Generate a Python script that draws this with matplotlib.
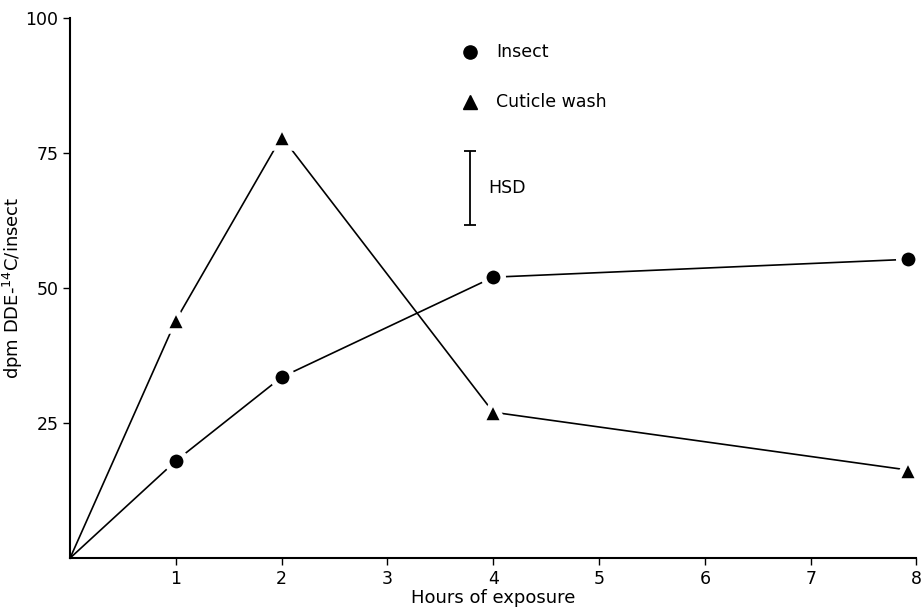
import matplotlib
matplotlib.use('Agg')
from matplotlib import pyplot as plt

hours = [0, 1, 2, 4, 7.92]
insect = [0, 18, 33.5, 52, 55.3]
cuticle_wash = [0, 44, 78, 27, 16.3]

hsd_x = 3.78
hsd_low = 61.6
hsd_high = 75.3

plt.rcParams['font.family'] = ['DejaVu Sans']
plt.rcParams['mathtext.default'] = 'regular'

fig = plt.figure(figsize=(9.22, 6.16), dpi=100)
ax = fig.add_axes([0.076, 0.094, 0.918, 0.877])

# no marker at the origin, only the measured hours
# white marker edge leaves the small gap between line and symbol
ax.plot(hours, insect, color='black', lw=1.2, marker='o', ms=14,
        mfc='black', mec='white', mew=4, markevery=[1, 2, 3, 4], clip_on=False)
ax.plot(hours, cuticle_wash, color='black', lw=1.2, marker='^', ms=15.5,
        mfc='black', mec='white', mew=4, markevery=[1, 2, 3, 4], clip_on=False)

# legend drawn by hand, like the original figure
ax.plot([3.78], [93.6], marker='o', ms=9.5, color='black', clip_on=False)
ax.text(4.03, 93.6, 'Insect', va='center', fontsize=12.5)
ax.plot([3.78], [84.5], marker='^', ms=10.5, color='black', clip_on=False)
ax.text(4.03, 84.5, 'Cuticle wash', va='center', fontsize=12.5)

# HSD bar
ax.errorbar([hsd_x], [(hsd_low + hsd_high) / 2], yerr=[(hsd_high - hsd_low) / 2],
            fmt='none', ecolor='black', elinewidth=1.3, capsize=4, capthick=1.3)
ax.text(3.95, 68.5, 'HSD', va='center', fontsize=12.5)

ax.set_xlim(0, 8)
ax.set_ylim(0, 100)
ax.set_xticks([1, 2, 3, 4, 5, 6, 7, 8])
ax.set_yticks([25, 50, 75, 100])
ax.tick_params(direction='out', length=5, width=1, labelsize=12.5)
for s in ['top', 'right']:
    ax.spines[s].set_visible(False)
for s in ['left', 'bottom']:
    ax.spines[s].set_linewidth(1.5)

ax.set_xlabel('Hours of exposure', fontsize=13, labelpad=1)
ax.set_ylabel('dpm DDE-$^{14}$C/insect', fontsize=13)
ax.yaxis.set_label_coords(-0.053, 0.5)

plt.savefig('out.png', dpi=100)
